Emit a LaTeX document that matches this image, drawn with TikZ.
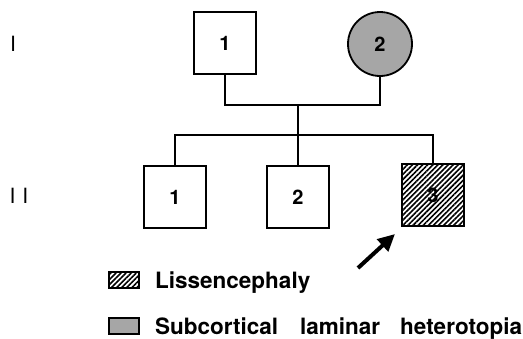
\documentclass[tikz,border=0pt]{standalone}
\usepackage{fontspec}
\setmainfont{TeX Gyre Heros}
\usetikzlibrary{patterns.meta,arrows.meta}
\tikzset{
  person/.style={draw=black,line width=1.8pt,minimum size=62pt,inner sep=0pt,font=\bfseries\fontsize{20}{20}\selectfont},
  female/.style={person,circle,minimum size=64pt},
  male/.style={person,rectangle},
  link/.style={line width=1.7pt},
  gen/.style={font=\fontsize{21}{21}\selectfont,inner sep=0pt},
  legtxt/.style={font=\bfseries\fontsize{22.5}{22.5}\selectfont,anchor=base west,inner sep=0pt},
  hatch/.style={pattern={Lines[angle=45,distance=3.6pt,line width=1.6pt]}},
  stipple/.style={fill=black!35},
  keybox/.style={draw,line width=1.3pt,minimum width=30pt,minimum height=16pt,inner sep=0pt},
}
\begin{document}
\begin{tikzpicture}[x=1pt,y=-1pt]
\useasboundingbox (0,0) rectangle (523,338);
\node[gen] (g1) at (13,44) {I};
\node[gen] (g2) at (19,196) {I\kern7pt I};
\node[male,fill=white] (a1) at (225,43) {1};
\node[female,stipple] (a2) at (380,44) {2};
\coordinate (m) at (298,105);
\draw[link] (a1.south) |- (a2.south |- m) -- (a2.south);
\coordinate (s) at (298,135);
\draw[link] (m) -- (s);
\node[male] (b1) at (175,197) {1};
\node[male] (b2) at (298,197) {2};
\node[male,hatch] (b3) at (433,195) {3};
\draw[link] (b1.north) |- (b3.north |- s) -- (b3.north);
\draw[link] (s) -- (b2.north);
\coordinate (tail) at (358,268);
\coordinate (tip) at (395,234);
\draw[line width=4pt,-{Triangle[length=17pt,width=16pt]}] (tail) -- (tip);
\node[keybox,hatch] (k1) at (124,280) {};
\node[legtxt] (t1) at (155,288) {Lissencephaly};
\node[keybox,stipple] (k2) at (124,326) {};
\node[legtxt] (t2) at (155,334) {Subcortical\hspace{22pt}laminar\hspace{20pt}heterotopia};
\end{tikzpicture}
\end{document}
